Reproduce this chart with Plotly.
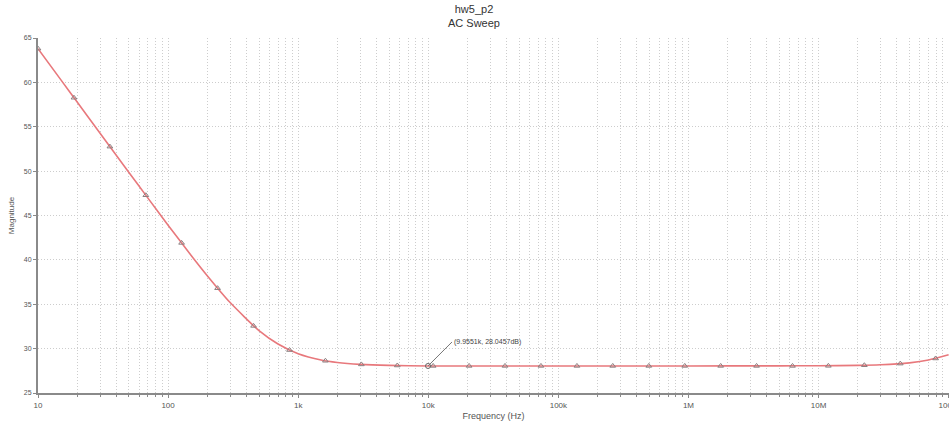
import math
import plotly.graph_objects as go

# Magnitude response of hw5_p2 (AC sweep), dB vs frequency
freq_hz = [10, 15, 20, 30, 50, 70, 100, 150, 200, 300, 500, 700, 1000, 1500,
           2000, 3000, 5000, 10000, 20000, 50000, 100000, 1e6, 5e6, 1e7, 2e7,
           3e7, 5e7, 7e7, 1e8]
mag_db = [63.80, 60.28, 57.79, 54.27, 49.85, 46.96, 43.91, 40.53, 38.22, 35.19,
          32.03, 30.52, 29.43, 28.72, 28.44, 28.23, 28.11, 28.05, 28.05, 28.05,
          28.05, 28.05, 28.06, 28.07, 28.11, 28.18, 28.40, 28.71, 29.30]

# Symbol markers along the trace
marker_hz = [10, 18.9, 35.7, 67.4, 127, 240, 454, 858, 1620, 3060, 5780, 10900,
             20600, 38900, 73500, 139000, 262000, 496000, 937000, 1.77e6, 3.34e6,
             6.31e6, 1.19e7, 2.25e7, 4.25e7, 7.94e7]
marker_db = [63.80, 58.27, 52.76, 47.28, 41.91, 36.81, 32.56, 29.84, 28.63, 28.22,
             28.10, 28.05, 28.05, 28.05, 28.05, 28.05, 28.05, 28.05, 28.05, 28.05,
             28.05, 28.05, 28.06, 28.13, 28.31, 28.89]

# Cursor readout
cursor_hz = 9955.1
cursor_db = 28.0457

tick_vals = [10, 100, 1000, 1e4, 1e5, 1e6, 1e7, 1e8]
tick_text = ["10", "100", "1k", "10k", "100k", "1M", "10M", "100M"]
y_ticks = [25, 30, 35, 40, 45, 50, 55, 60, 65]

FONT = "Liberation Sans, Arial, sans-serif"
GRID = "#cdcdcd"
AXIS = "#8a8a8a"
DOTS = "1px,2px"

fig = go.Figure()
fig.add_trace(go.Scatter(
    x=freq_hz, y=mag_db, mode="lines",
    line=dict(color="#e8787c", width=1.6, shape="spline", smoothing=0.6),
    hoverinfo="skip", showlegend=False, cliponaxis=False))
fig.add_trace(go.Scatter(
    x=marker_hz, y=marker_db, mode="markers",
    marker=dict(symbol="triangle-up-open", size=5, color="#8c7f80", line=dict(width=1)),
    hoverinfo="skip", showlegend=False))
fig.add_trace(go.Scatter(
    x=[cursor_hz], y=[cursor_db], mode="markers",
    marker=dict(symbol="circle-open", size=5, color="#666666", line=dict(width=1)),
    hoverinfo="skip", showlegend=False))

# On a log axis annotations take the exponent as their x position
fig.add_annotation(
    x=math.log10(cursor_hz), y=cursor_db, xref="x", yref="y",
    text="(9.9551k, 28.0457dB)", showarrow=True, arrowhead=0, arrowwidth=1,
    arrowcolor="#777777", ax=24, ay=-24, xanchor="left", yanchor="middle",
    font=dict(family=FONT, size=7, color="#444444"))

# Two-line chart heading, centred on the page
fig.add_annotation(
    xref="paper", yref="paper", x=0.479, y=1.103, xanchor="center", yanchor="top",
    text="hw5_p2<br>AC Sweep", showarrow=False, align="center",
    font=dict(family=FONT, size=11, color="#333333"))

fig.update_layout(
    width=949, height=425,
    margin=dict(l=38, r=0, t=38, b=32, autoexpand=False),
    paper_bgcolor="white", plot_bgcolor="white",
    font=dict(family=FONT, size=8, color="#555555"),
)
fig.update_xaxes(
    type="log", range=[1, 8.003], automargin=False,
    tickvals=tick_vals, ticktext=tick_text, ticklabeloverflow="allow",
    showgrid=True, gridcolor=GRID, griddash=DOTS, gridwidth=1,
    minor=dict(dtick="D1", showgrid=True, gridcolor=GRID, griddash=DOTS, gridwidth=1,
               ticks="outside", ticklen=2, tickcolor=AXIS),
    ticks="outside", ticklen=3, tickcolor=AXIS,
    showline=True, linecolor=AXIS, linewidth=2, zeroline=False,
    tickfont=dict(family=FONT, size=8, color="#555555"),
    title=dict(text="Frequency (Hz)", standoff=4, font=dict(family=FONT, size=9, color="#555555")),
)
fig.update_yaxes(
    range=[25, 65], tickvals=y_ticks, automargin=False,
    showgrid=True, gridcolor=GRID, griddash=DOTS, gridwidth=1,
    ticks="outside", ticklen=3, tickcolor=AXIS,
    showline=True, linecolor=AXIS, linewidth=2, zeroline=False,
    tickfont=dict(family=FONT, size=7, color="#555555"),
    title=dict(text="Magnitude", standoff=8, font=dict(family=FONT, size=8, color="#555555")),
)

fig.write_html("out.html")
